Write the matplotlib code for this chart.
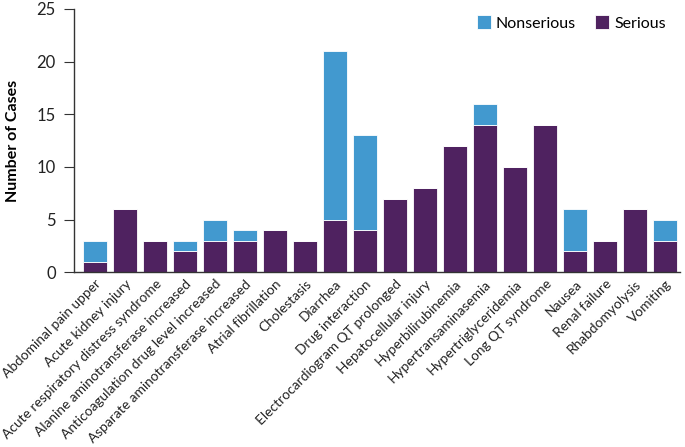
import matplotlib
matplotlib.use("Agg")
import matplotlib.pyplot as plt
import numpy as np

categories = ["Abdominal pain upper", "Acute kidney injury", "Acute respiratory distress syndrome",
              "Alanine aminotransferase increased", "Anticoagulation drug level increased",
              "Asparate aminotransferase increased", "Atrial fibrillation", "Cholestasis",
              "Diarrhea", "Drug interaction", "Electrocardiogram QT prolonged",
              "Hepatocellular injury", "Hyperbilirubinemia", "Hypertransaminasemia",
              "Hypertriglyceridemia", "Long QT syndrome", "Nausea", "Renal failure",
              "Rhabdomyolysis", "Vomiting"]
serious = [1, 6, 3, 2, 3, 3, 4, 3, 5, 4, 7, 8, 12, 14, 10, 14, 2, 3, 6, 3]
nonserious = [2, 0, 0, 1, 2, 1, 0, 0, 16, 9, 0, 0, 0, 2, 0, 0, 4, 0, 0, 2]

plt.rcParams['font.family'] = ['Lato', 'DejaVu Sans']

fig = plt.figure(figsize=(6.85, 4.47), dpi=100)
ax = fig.add_axes([0.108, 0.391, 0.885, 0.589])

x = np.arange(len(categories))
purple = "#4F2260"
blue = "#4299CF"
ax.bar(x, serious, width=0.8, color=purple, edgecolor="white", linewidth=0.6, label="Serious")
ax.bar(x, nonserious, width=0.8, bottom=serious, color=blue, edgecolor="white", linewidth=0.6, label="Nonserious")

ax.set_xlim(-0.7, 19.5)
ax.set_ylim(0, 25)
ax.set_yticks([0, 5, 10, 15, 20, 25])
ax.set_xticks(x)
ax.set_xticklabels(categories, rotation=45, ha="right", rotation_mode="anchor", fontsize=9.9, color="#222222")
ax.tick_params(axis="x", length=0, pad=4)
ax.tick_params(axis="y", labelsize=12, length=7, pad=6, color="#333333", labelcolor="#222222")
for s in ["top", "right"]:
    ax.spines[s].set_visible(False)
for s in ["left", "bottom"]:
    ax.spines[s].set_color("#333333")
    ax.spines[s].set_linewidth(1.0)
ax.set_ylabel("Number of Cases", fontsize=11.5, fontweight="bold", labelpad=12)

handles, labels = ax.get_legend_handles_labels()
ax.legend(handles[::-1], labels[::-1], loc="upper right", bbox_to_anchor=(1.0, 1.03), ncol=2,
          frameon=False, fontsize=11.5, handlelength=0.9, handleheight=0.9, handletextpad=0.3,
          columnspacing=1.2)

fig.savefig("out.png", dpi=100)
